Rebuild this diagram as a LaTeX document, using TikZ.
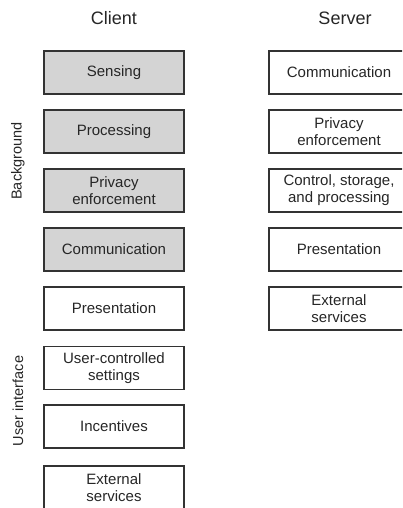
\documentclass[tikz,border=0pt]{standalone}
\usepackage{fontspec}
\setmainfont{Liberation Sans}
\begin{document}
\begin{tikzpicture}[x=1pt,y=-1pt,
  box/.style={draw=black!80,line width=1.1pt,minimum width=140pt,minimum height=43pt,inner sep=0pt,align=center,font=\fontsize{15}{17}\selectfont,text=black!85},
  shaded/.style={box,fill=black!17},
  title/.style={font=\fontsize{18}{21}\selectfont,text=black!85},
  side/.style={font=\fontsize{14.5}{17}\selectfont,rotate=90,text=black!85}]
\path[use as bounding box,clip] (0,0) rectangle (402,508);
\node[title] (client) at (114,18) {Client};
\node[title] (server) at (345,18) {Server};
\node[side] (bg) at (18,161) {Background};
\node[side] (ui) at (18,401) {User interface};
\node[shaded] (c1) at (114,72.5) {Sensing};
\node[shaded] (c2) at (114,131.5) {Processing};
\node[shaded] (c3) at (114,190.5) {Privacy\\enforcement};
\node[shaded] (c4) at (114,249.5) {Communication};
\node[box] (c5) at (114,308.5) {Presentation};
\node[box] (c6) at (114,368) {User-controlled\\settings};
\node[box] (c7) at (114,426.5) {Incentives};
\node[box] (c8) at (114,487.5) {External\\services};
\node[box] (s1) at (339,72.5) {Communication};
\node[box] (s2) at (339,131.5) {Privacy\\enforcement};
\node[box] (s3) at (339,190.5) {Control, storage,\\and processing};
\node[box] (s4) at (339,249.5) {Presentation};
\node[box] (s5) at (339,308.5) {External\\services};
\end{tikzpicture}
\end{document}
